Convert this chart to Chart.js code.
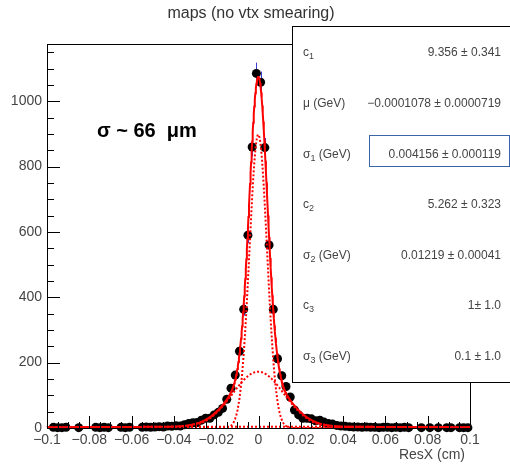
<!DOCTYPE html>
<html>
<head>
<meta charset="utf-8">
<script src="https://cdn.jsdelivr.net/npm/chart.js@4/dist/chart.umd.min.js"></script>
<style>
html, body { margin: 0; padding: 0; background: #ffffff; }
#wrap { position: relative; width: 510px; height: 466px; }
</style>
</head>
<body>
<div id="wrap"><canvas id="myChart"></canvas></div>
<script>
// histogram bin centres (cm)
const binCenters = [
    -0.099, -0.097, -0.095, -0.093, -0.091, -0.089, -0.087, -0.085, -0.083, -0.081,
    -0.079, -0.077, -0.075, -0.073, -0.071, -0.069, -0.067, -0.065, -0.063, -0.061,
    -0.059, -0.057, -0.055, -0.053, -0.051, -0.049, -0.047, -0.045, -0.043, -0.041,
    -0.039, -0.037, -0.035, -0.033, -0.031, -0.029, -0.027, -0.025, -0.023, -0.021,
    -0.019, -0.017, -0.015, -0.013, -0.011, -0.009, -0.007, -0.005, -0.003, -0.001,
    0.001, 0.003, 0.005, 0.007, 0.009, 0.011, 0.013, 0.015, 0.017, 0.019,
    0.021, 0.023, 0.025, 0.027, 0.029, 0.031, 0.033, 0.035, 0.037, 0.039,
    0.041, 0.043, 0.045, 0.047, 0.049, 0.051, 0.053, 0.055, 0.057, 0.059,
    0.061, 0.063, 0.065, 0.067, 0.069, 0.071, 0.073, 0.075, 0.077, 0.079,
    0.081, 0.083, 0.085, 0.087, 0.089, 0.091, 0.093, 0.095, 0.097, 0.099
];
// entries per bin (null = empty bin, not drawn)
const binCounts = [
    null, 2, 1, 1, 2, null, null, 1, null, null,
    null, 2, 1, 2, 1, null, null, 2, 1, 2,
    null, null, 2, 3, 2, 3, 4, 3, 6, 5,
    7, 6, 10, 14, 16, 17, 24, 30, 30, 40,
    48, 60, 88, 122, 162, 235, 363, 590, 860, 1085,
    1058, 858, 560, 363, 212, 160, 127, 95, 55, 40,
    30, 30, 28, 22, 24, 18, 14, 12, 8, 6,
    5, 4, 3, 3, 2, 3, 2, 2, 1, 2,
    2, 1, 2, 1, 2, 1, null, null, 1, null,
    1, null, 1, null, 1, 1, null, 1, 1, 1
];

// fit parameters from the stats box
const fitMu = -0.0001078;
const fitC = [9.356, 5.262, 1];
const fitSigma = [0.004156, 0.01219, 0.1];

const xTickValues = [-0.1, -0.08, -0.06, -0.04, -0.02, 0, 0.02, 0.04, 0.06, 0.08, 0.1];
const xTickLabels = ['\u22120.1', '\u22120.08', '\u22120.06', '\u22120.04', '\u22120.02', '0', '0.02', '0.04', '0.06', '0.08', '0.1'];
const yTickValues = [0, 200, 400, 600, 800, 1000];
const yTickLabels = ['0', '200', '400', '600', '800', '1000'];

const statLabels = [
    [['c'], ['1', 'sub']],
    [['\u03bc (GeV)']],
    [['\u03c3'], ['1', 'sub'], [' (GeV)']],
    [['c'], ['2', 'sub']],
    [['\u03c3'], ['2', 'sub'], [' (GeV)']],
    [['c'], ['3', 'sub']],
    [['\u03c3'], ['3', 'sub'], [' (GeV)']]
];
const statValues = [
    '9.356 \u00b1 0.341',
    '\u22120.0001078 \u00b1 0.0000719',
    '0.004156 \u00b1 0.000119',
    '5.262 \u00b1 0.323',
    '0.01219 \u00b1 0.00041',
    '1\u00b1 1.0',
    '0.1 \u00b1 1.0'
];

const FONT = '"Liberation Sans", Arial, Helvetica, sans-serif';

function gaus(x, c, s) {
    const d = x - fitMu;
    return c / (s * Math.sqrt(2 * Math.PI)) * Math.exp(-d * d / (2 * s * s));
}

const points = [];
binCenters.forEach((x, i) => {
    if (binCounts[i] !== null) points.push({ x: x, y: binCounts[i] });
});

const curveX = [];
for (let k = 0; k <= 800; k++) curveX.push(-0.1 + k * 0.00025);
const totalCurve = curveX.map(x => ({ x: x, y: fitC.reduce((s, c, j) => s + gaus(x, c, fitSigma[j]), 0) }));
const compCurves = fitC.map((c, j) => curveX.map(x => ({ x: x, y: gaus(x, c, fitSigma[j]) })));

const rootDecor = {
    id: 'rootDecor',
    beforeDatasetsDraw(chart) {
        // vertical error bars (sqrt N), under the markers
        const ctx = chart.ctx, xs = chart.scales.x, ys = chart.scales.y;
        ctx.save();
        ctx.strokeStyle = '#3a3ad0';
        ctx.lineWidth = 1;
        points.forEach(p => {
            const e = Math.sqrt(p.y);
            const px = Math.round(xs.getPixelForValue(p.x)) + 0.5;
            ctx.beginPath();
            ctx.moveTo(px, ys.getPixelForValue(p.y + e));
            ctx.lineTo(px, ys.getPixelForValue(Math.max(p.y - e, 0)));
            ctx.stroke();
        });
        ctx.restore();
    },
    afterDraw(chart) {
        const ctx = chart.ctx, xs = chart.scales.x, ys = chart.scales.y, a = chart.chartArea;
        ctx.save();
        ctx.strokeStyle = '#000';
        ctx.lineWidth = 1;
        // frame
        ctx.strokeRect(Math.round(a.left) + 0.5, Math.round(a.top) + 0.5, Math.round(a.right - a.left), Math.round(a.bottom - a.top));
        // x ticks pointing inward
        ctx.beginPath();
        for (let k = 0; k <= 40; k++) {
            const v = -0.1 + k * 0.005;
            const px = Math.round(xs.getPixelForValue(v)) + 0.5;
            const len = (k % 4 === 0) ? 12 : 6;
            ctx.moveTo(px, a.bottom);
            ctx.lineTo(px, a.bottom - len);
        }
        // y ticks
        for (let v = 0; v <= 1150; v += 50) {
            const py = Math.round(ys.getPixelForValue(v)) + 0.5;
            const len = (v % 200 === 0) ? 13 : 7;
            ctx.moveTo(a.left, py);
            ctx.lineTo(a.left + len, py);
        }
        ctx.stroke();

        // title
        ctx.fillStyle = '#333';
        ctx.font = '16px ' + FONT;
        ctx.textAlign = 'center';
        ctx.textBaseline = 'middle';
        ctx.fillText('maps (no vtx smearing)', 251, 14);

        // axis title
        ctx.font = '14px ' + FONT;
        ctx.textAlign = 'right';
        ctx.fillStyle = '#444';
        ctx.fillText('ResX (cm)', 465, 455);

        // resolution label
        ctx.fillStyle = '#000';
        ctx.font = 'bold 20px ' + FONT;
        ctx.textAlign = 'left';
        ctx.fillText('\u03c3 ~ 66  \u03bcm', 97, 131);

        // stats box
        ctx.fillStyle = '#fff';
        ctx.fillRect(292.5, 26.5, 230, 356);
        ctx.strokeStyle = '#000';
        ctx.strokeRect(292.5, 26.5, 230, 356);
        ctx.strokeStyle = '#3c64a8';
        ctx.strokeRect(369.5, 135.5, 140, 31);

        ctx.fillStyle = '#444';
        statLabels.forEach((parts, i) => {
            const y = 53 + 50.6 * i;
            let x = 303;
            parts.forEach(p => {
                if (p[1] === 'sub') {
                    ctx.font = '9px ' + FONT;
                    ctx.textAlign = 'left';
                    ctx.fillText(p[0], x, y + 4);
                    x += ctx.measureText(p[0]).width;
                } else {
                    ctx.font = '12px ' + FONT;
                    ctx.textAlign = 'left';
                    ctx.fillText(p[0], x, y);
                    x += ctx.measureText(p[0]).width;
                }
            });
            ctx.font = '12px ' + FONT;
            ctx.textAlign = 'right';
            ctx.fillText(statValues[i], 501, y);
        });
        ctx.restore();
    }
};

document.addEventListener("DOMContentLoaded", function() {
    const ctx = document.getElementById('myChart').getContext('2d');
    const curveStyle = {
        type: 'line',
        borderColor: '#ff0000',
        borderWidth: 2,
        pointRadius: 0,
        tension: 0,
        fill: false,
        clip: false,
        order: 1
    };
    const myChart = new Chart(ctx, {
        data: {
            datasets: [
                Object.assign({}, curveStyle, { label: 'fit', data: totalCurve }),
                Object.assign({}, curveStyle, { label: 'g1', data: compCurves[0], borderDash: [2, 2] }),
                Object.assign({}, curveStyle, { label: 'g2', data: compCurves[1], borderDash: [2, 2] }),
                Object.assign({}, curveStyle, { label: 'g3', data: compCurves[2], borderDash: [2, 2] }),
                {
                    type: 'scatter',
                    label: 'ResX',
                    data: points,
                    pointRadius: 4.5,
                    pointBackgroundColor: '#000',
                    pointBorderWidth: 0,
                    showLine: false,
                    clip: false,
                    order: 2
                }
            ]
        },
        options: {
            responsive: true,
            maintainAspectRatio: false,
            animation: false,
            events: [],
            layout: { padding: { top: 44, right: 40, left: 0, bottom: 0 } },
            plugins: { legend: { display: false }, tooltip: { enabled: false } },
            scales: {
                x: {
                    type: 'linear',
                    min: -0.1,
                    max: 0.1,
                    afterFit(s) { s.height = 38; },
                    grid: { display: false, drawTicks: false },
                    border: { display: false },
                    afterBuildTicks(s) { s.ticks = xTickValues.map(v => ({ value: v })); },
                    ticks: {
                        autoSkip: false,
                        maxRotation: 0,
                        padding: 4,
                        color: '#444',
                        font: { family: FONT, size: 14 },
                        callback: (v, i) => xTickLabels[i]
                    }
                },
                y: {
                    type: 'linear',
                    min: 0,
                    max: 1175,
                    afterFit(s) { s.width = 47; },
                    grid: { display: false, drawTicks: false },
                    border: { display: false },
                    afterBuildTicks(s) { s.ticks = yTickValues.map(v => ({ value: v })); },
                    ticks: {
                        autoSkip: false,
                        padding: 5,
                        color: '#444',
                        font: { family: FONT, size: 14 },
                        callback: (v, i) => yTickLabels[i]
                    }
                }
            }
        },
        plugins: [rootDecor]
    });
});
</script>
</body>
</html>
